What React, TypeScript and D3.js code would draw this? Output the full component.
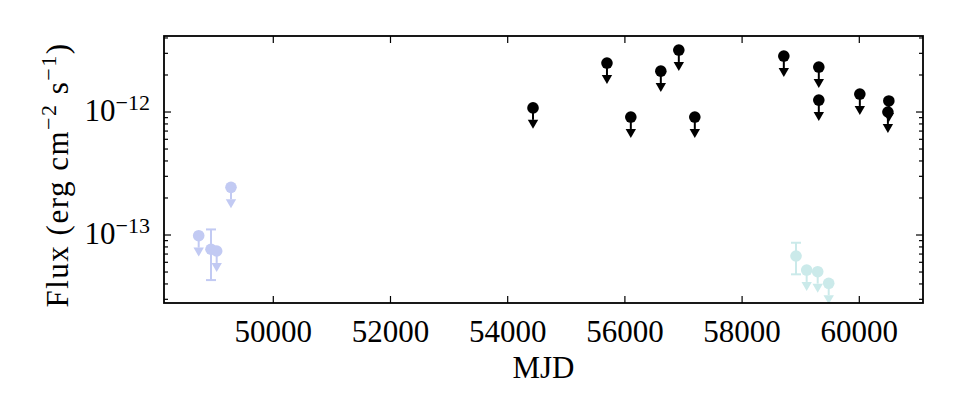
import React from "react";
import * as d3 from "d3";

// ---- data ----
const blackUlMjd = [54432, 55694, 56101, 56613, 56920, 57193, 58712, 59309, 59309, 60009, 60504, 60488];
const blackUlFlux = [1.08e-12, 2.5e-12, 9.1e-13, 2.15e-12, 3.19e-12, 9.1e-13, 2.85e-12, 2.32e-12, 1.25e-12, 1.4e-12, 1.23e-12, 1.0e-12];

const lavUlMjd = [48727, 49034, 49278];
const lavUlFlux = [9.87e-14, 7.41e-14, 2.44e-13];
const lavDetMjd = [48937];
const lavDetFlux = [7.66e-14];
const lavDetLo = [4.3e-14];
const lavDetHi = [1.11e-13];

const cyanDetMjd = [58920];
const cyanDetFlux = [6.75e-14];
const cyanDetLo = [4.79e-14];
const cyanDetHi = [8.65e-14];
const cyanUlMjd = [59102, 59290, 59478];
const cyanUlFlux = [5.19e-14, 5.03e-14, 4.05e-14];

const xTicks = [50000, 52000, 54000, 56000, 58000, 60000];
const yTicks = [1e-13, 1e-12];
const yTickExp = ["\u221213", "\u221212"];

const ulFrac = 0.8;

// ---- layout ----
const W = 960, H = 420;
const L = 164, R = 923, T = 36, B = 303;
const FONT = "'Liberation Serif', 'DejaVu Serif', serif";
const BLACK = "#000000";
const LAV = "#c2caf3";
const CYAN = "#cbeaea";
const FS = 31;
const SUP = 22;

export default function App() {
  const x = d3.scaleLinear().domain([48135, 61087]).range([L, R]);
  const y = d3.scaleLog().domain([2.8e-14, 4.15e-12]).range([B, T]);

  const minor: number[] = [];
  for (let e = -14; e <= -12; e++) {
    for (let m = 2; m <= 9; m++) {
      const v = m * Math.pow(10, e);
      if (v >= y.domain()[0] && v <= y.domain()[1]) minor.push(v);
    }
  }

  const ul = (mx: number, fv: number, color: string, key: string) => {
    const cx = x(mx);
    const cy = y(fv);
    const ey = y(fv * ulFrac);
    return (
      <g key={key}>
        <line x1={cx} x2={cx} y1={cy} y2={ey} stroke={color} strokeWidth={2} />
        <path d={`M${cx - 5.2},${ey} L${cx + 5.2},${ey} L${cx},${ey + 9} Z`} fill={color} />
        <circle cx={cx} cy={cy} r={5.8} fill={color} />
      </g>
    );
  };

  const det = (mx: number, fv: number, lo: number, hi: number, color: string, key: string) => {
    const cx = x(mx);
    return (
      <g key={key}>
        <line x1={cx} x2={cx} y1={y(hi)} y2={y(lo)} stroke={color} strokeWidth={2} />
        <line x1={cx - 5} x2={cx + 5} y1={y(hi)} y2={y(hi)} stroke={color} strokeWidth={2} />
        <line x1={cx - 5} x2={cx + 5} y1={y(lo)} y2={y(lo)} stroke={color} strokeWidth={2} />
        <circle cx={cx} cy={y(fv)} r={5.8} fill={color} />
      </g>
    );
  };

  return (
    <svg width={W} height={H} style={{ position: "absolute", left: 0, top: 0, background: "#fff" }} fontFamily={FONT}>
      <rect x={0} y={0} width={W} height={H} fill="#fff" />
      <defs>
        <clipPath id="plotclip">
          <rect x={L} y={T} width={R - L} height={B - T} />
        </clipPath>
      </defs>
      <g clipPath="url(#plotclip)">
        {lavDetMjd.map((m, i) => det(m, lavDetFlux[i], lavDetLo[i], lavDetHi[i], LAV, "ld" + i))}
        {lavUlMjd.map((m, i) => ul(m, lavUlFlux[i], LAV, "lu" + i))}
        {cyanDetMjd.map((m, i) => det(m, cyanDetFlux[i], cyanDetLo[i], cyanDetHi[i], CYAN, "cd" + i))}
        {cyanUlMjd.map((m, i) => ul(m, cyanUlFlux[i], CYAN, "cu" + i))}
        {blackUlMjd.map((m, i) => ul(m, blackUlFlux[i], BLACK, "bu" + i))}
      </g>
      {/* ticks */}
      <g stroke="#000" strokeWidth={1.2}>
        {xTicks.map((t) => (
          <g key={"xt" + t}>
            <line x1={x(t)} x2={x(t)} y1={B} y2={B - 7} />
            <line x1={x(t)} x2={x(t)} y1={T} y2={T + 7} />
          </g>
        ))}
        {yTicks.map((t) => (
          <g key={"yt" + t}>
            <line x1={L} x2={L + 7} y1={y(t)} y2={y(t)} />
            <line x1={R} x2={R - 7} y1={y(t)} y2={y(t)} />
          </g>
        ))}
        {minor.map((t) => (
          <g key={"ym" + t}>
            <line x1={L} x2={L + 4} y1={y(t)} y2={y(t)} />
            <line x1={R} x2={R - 4} y1={y(t)} y2={y(t)} />
          </g>
        ))}
      </g>
      <rect x={L} y={T} width={R - L} height={B - T} fill="none" stroke="#000" strokeWidth={1.8} />
      {/* tick labels */}
      {xTicks.map((t) => (
        <text key={"xl" + t} x={x(t)} y={342} textAnchor="middle" fontSize={FS} fill="#000">
          {t}
        </text>
      ))}
      {yTicks.map((t, i) => (
        <text key={"yl" + t} x={150} y={y(t) + 9} textAnchor="end" fontSize={FS} fill="#000">
          10
          <tspan fontSize={SUP} dy={-11}>{yTickExp[i]}</tspan>
        </text>
      ))}
      <text x={(L + R) / 2} y={378} textAnchor="middle" fontSize={FS} fill="#000">
        MJD
      </text>
      <text transform={`translate(68, 175) rotate(-90)`} textAnchor="middle" fontSize={FS} fill="#000" letterSpacing={1.5}>
        Flux (erg cm
        <tspan fontSize={SUP} dy={-12}>{"\u22122"}</tspan>
        <tspan dy={12}> s</tspan>
        <tspan fontSize={SUP} dy={-12}>{"\u22121"}</tspan>
        <tspan dy={12}>)</tspan>
      </text>
    </svg>
  );
}
